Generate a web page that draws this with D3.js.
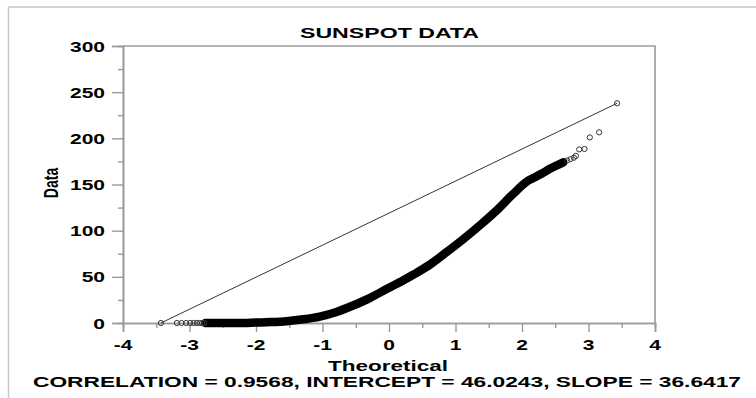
<!DOCTYPE html>
<html><head><meta charset="utf-8">
<script src="https://cdn.jsdelivr.net/npm/d3@7"></script>
<style>body{margin:0;background:#fff;overflow:hidden}</style>
</head><body>
<script>
const title = "SUNSPOT DATA";
const xLabel = "Theoretical";
const yLabel = "Data";
const footer = "CORRELATION = 0.9568, INTERCEPT = 46.0243, SLOPE = 36.6417";
const xTicks = [-4, -3, -2, -1, 0, 1, 2, 3, 4];
const yTicks = [0, 50, 100, 150, 200, 250, 300];
const xMinorTicks = [-3.5, -2.5, -1.5, -0.5, 0.5, 1.5, 2.5, 3.5];
const yMinorTicks = [25, 75, 125, 175, 225, 275];

// dense body of the probability plot (theoretical quantile vs ordered data)
const bodyTheoretical = [-2.76, -2.5, -2.2, -2.0, -1.79, -1.54, -1.29, -1.04, -0.79, -0.54, -0.29, -0.03, 0.21, 0.37, 0.62, 0.87, 1.12, 1.37, 1.62, 1.87, 2.07, 2.17, 2.3, 2.42, 2.62];
const bodyData =        [0,     0,    0,    0.5,  1,     2,     4,     7,     12,    19,    27,    37,    46,   52.5, 63.5, 77,   91,   106,  122,  140,  153,  157,  162,  167,  174];

// isolated points in the tails
const tailTheoretical = [-3.43, -3.19, -3.12, -3.05, -2.99, -2.94, -2.89, -2.85, -2.81, -2.78, 2.68, 2.73, 2.78, 2.81, 2.86, 2.94, 3.02, 3.16, 3.43];
const tailData =        [0,     0,     0,     0,     0,     0,     0,     0,     0,     0,     176,  177.5, 179, 181,  188,  188.5, 201, 206.5, 238];

// reference line end points
const refTheoretical = [-3.43, 3.43];
const refData = [0, 238];

const W = 756, H = 398, SX = 1.4;
const FONT = "'Liberation Sans', Arial, Helvetica, sans-serif";

const svg = d3.select("body").append("svg").attr("width", W).attr("height", H)
  .style("font-family", FONT).style("font-weight", "bold");

const x = d3.scaleLinear().domain([-4, 4]).range([123, 655]);
const y = d3.scaleLinear().domain([0, 300]).range([323, 46]);

// outer border
svg.append("path").attr("d", `M8.5,${H} L8.5,7 L${W},7`)
  .attr("fill", "none").attr("stroke", "#c8c8c8").attr("stroke-width", 1.5);

const axisColor = "#9a9a9a";

// frame (top and right)
svg.append("path").attr("d", `M${x(-4)},${y(300)} L${x(4)},${y(300)} L${x(4)},${y(0)}`)
  .attr("fill", "none").attr("stroke", axisColor).attr("stroke-width", 1.6);

// x axis
const gx = svg.append("g").attr("transform", `translate(0,${y(0)})`)
  .call(d3.axisBottom(x).tickValues(xTicks).tickSize(9).tickFormat(""));
const gxm = svg.append("g").attr("transform", `translate(0,${y(0)})`)
  .call(d3.axisBottom(x).tickValues(xMinorTicks).tickSize(5).tickFormat(""));
// y axis
const gy = svg.append("g").attr("transform", `translate(${x(-4)},0)`)
  .call(d3.axisLeft(y).tickValues(yTicks).tickSize(11).tickFormat(""));
const gym = svg.append("g").attr("transform", `translate(${x(-4)},0)`)
  .call(d3.axisLeft(y).tickValues(yMinorTicks).tickSize(5).tickFormat(""));
[gx, gxm, gy, gym].forEach(g => {
  g.selectAll("path.domain").attr("stroke", axisColor).attr("stroke-width", 1.6);
  g.selectAll(".tick line").attr("stroke", axisColor).attr("stroke-width", 1.4);
});

// tick labels (stretched horizontally like the reference)
svg.append("g").selectAll("text").data(xTicks).join("text")
  .attr("transform", d => `translate(${x(d)},${y(0) + 27}) scale(${SX},1)`)
  .attr("text-anchor", "middle").attr("font-size", 15).attr("fill", "#000")
  .text(d => d);
svg.append("g").selectAll("text").data(yTicks).join("text")
  .attr("transform", d => `translate(105,${y(d) + 5.5}) scale(${SX},1)`)
  .attr("text-anchor", "end").attr("font-size", 15).attr("fill", "#000")
  .text(d => d);

// title & labels
svg.append("text").attr("x", 300).attr("y", 38)
  .attr("font-size", 15).attr("textLength", 179).attr("lengthAdjust", "spacingAndGlyphs").text(title);
svg.append("text").attr("x", 328).attr("y", 371)
  .attr("font-size", 15).attr("textLength", 120).attr("lengthAdjust", "spacingAndGlyphs").text(xLabel);
svg.append("text").attr("transform", `translate(58,183) scale(${SX},1) rotate(-90)`)
  .attr("text-anchor", "middle").attr("font-size", 14).text(yLabel);
svg.append("text").attr("x", 33).attr("y", 387)
  .attr("font-size", 15).attr("textLength", 708).attr("lengthAdjust", "spacingAndGlyphs").text(footer);

// reference line
const refPts = refTheoretical.map((t, i) => [t, refData[i]]);
svg.append("path").datum(refPts)
  .attr("d", d3.line().x(d => x(d[0])).y(d => y(d[1])))
  .attr("fill", "none").attr("stroke", "#333").attr("stroke-width", 1);

// dense body: overlapping markers form a solid band
const body = bodyTheoretical.map((t, i) => [t, bodyData[i]]);
svg.append("path").datum(body)
  .attr("d", d3.line().curve(d3.curveMonotoneX).x(d => x(d[0])).y(d => y(d[1])))
  .attr("fill", "none").attr("stroke", "#000").attr("stroke-width", 8.5)
  .attr("stroke-linecap", "round").attr("stroke-linejoin", "round");
svg.append("g").selectAll("circle").data(body).join("circle")
  .attr("cx", d => x(d[0])).attr("cy", d => y(d[1])).attr("r", 2.6)
  .attr("fill", "none").attr("stroke", "#000").attr("stroke-width", 1);

// tail markers
const tail = tailTheoretical.map((t, i) => [t, tailData[i]]);
svg.append("g").selectAll("circle").data(tail).join("circle")
  .attr("cx", d => x(d[0])).attr("cy", d => y(d[1])).attr("r", 2.6)
  .attr("fill", "none").attr("stroke", "#333").attr("stroke-width", 1);
</script>
</body></html>
